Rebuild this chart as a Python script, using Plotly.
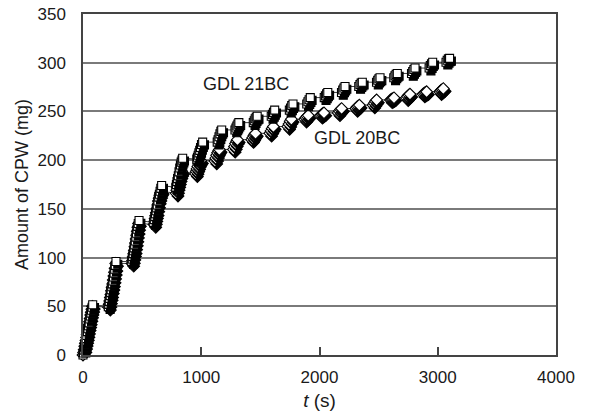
import plotly.graph_objects as go

# ---------------- data ----------------
t_21bc = [0, 4, 8, 12, 17, 22, 27, 32, 37, 42, 47, 52, 57, 62, 67, 72, 77, 82,
          214, 218, 222, 226, 230, 234, 238, 243, 248, 253, 258, 263, 268, 273, 279,
          412, 416, 420, 424, 428, 432, 437, 442, 447, 452, 457, 462, 467, 474,
          598, 603, 608, 613, 618, 623, 628, 634, 640, 646, 652, 658, 665,
          785, 790, 795, 800, 806, 812, 818, 824, 830, 837, 843,
          962, 968, 974, 980, 987, 994, 1002, 1012,
          1135, 1142, 1150, 1158, 1166, 1173,
          1285, 1293, 1301, 1310, 1318,
          1440, 1448, 1456, 1465, 1473,
          1592, 1602, 1611, 1621,
          1745, 1755, 1765, 1776,
          1892, 1902, 1912, 1922,
          2040, 2050, 2060, 2070,
          2186, 2196, 2206, 2216,
          2332, 2342, 2352, 2362,
          2482, 2492, 2502, 2512,
          2628, 2638, 2648, 2658,
          2778, 2788, 2798, 2808,
          2927, 2937, 2947, 2957,
          3070, 3080, 3090, 3100]
m_21bc = [0, 2, 5, 8, 11, 14, 17, 20, 24, 27, 30, 33, 37, 40, 43, 46, 49, 51.5,
          49.5, 52, 55, 58, 61, 64, 67, 70, 73, 76, 80, 84, 88, 92, 96,
          96, 98.5, 101, 104, 107, 110, 113, 117, 121, 125, 129, 132, 135, 138,
          136, 139, 142, 145, 148, 151, 154, 158, 162, 165, 168, 171, 174,
          172, 175, 178, 181, 184, 188, 192, 195, 198, 200, 202,
          201, 203, 205, 207.5, 210, 213, 216, 218.5,
          218.5, 221, 224, 227, 229.5, 231,
          231, 233, 235, 237, 238.5,
          238.5, 240.5, 242.5, 244, 245,
          245, 247, 249, 251.3,
          251.3, 253.5, 256, 257.7,
          257.7, 260, 262, 264.2,
          264.2, 266, 268, 269.5,
          269.5, 272, 274, 275.6,
          275.6, 277.5, 279, 280,
          280, 282, 283.5, 284.5,
          284.5, 286.5, 288, 289,
          289, 291, 293, 294.5,
          294.5, 297, 299, 300.5,
          300.5, 302.5, 304, 304.5]

t_20bc = [0, 5, 10, 15, 20, 25, 30, 35, 40, 45, 50, 55, 60, 65, 70, 75, 80,
          216, 221, 226, 231, 236, 241, 246, 251, 256, 261, 266, 271, 277,
          414, 419, 424, 429, 434, 439, 444, 449, 454, 459, 464, 470,
          600, 605, 610, 615, 620, 626, 632, 638, 644, 650, 656, 662,
          788, 793, 798, 803, 809, 815, 821, 828, 835,
          952, 958, 964, 971, 978, 986, 995,
          1116, 1123, 1130, 1138, 1146, 1153,
          1272, 1281, 1290, 1299, 1306,
          1427, 1436, 1445, 1452, 1459,
          1580, 1590, 1600, 1610,
          1732, 1742, 1752, 1762,
          1875, 1885, 1895, 1905,
          2010, 2020, 2029, 2038,
          2158, 2168, 2178, 2187,
          2307, 2317, 2327, 2337,
          2453, 2463, 2473, 2483,
          2600, 2610, 2620, 2630,
          2735, 2745, 2755, 2765,
          2876, 2886, 2896, 2906,
          3017, 3027, 3037, 3047]
m_20bc = [0, 2.5, 5.5, 9, 12, 15, 18, 21, 24.5, 28, 31, 34, 37.5, 41, 44, 47, 50,
          49, 52, 55.5, 59, 62, 66, 69.5, 73, 77, 81, 85, 89, 94,
          94, 97, 100.5, 104, 107, 111, 115, 119, 123, 127, 131, 135,
          134, 137, 140, 143, 146, 150, 154, 158, 161, 164, 166.5, 168,
          166, 169, 172, 175, 178, 181, 184, 186.5, 188.5,
          186, 188.5, 191, 193.5, 196, 198, 199.5,
          199, 202, 205, 207.5, 209.5, 211,
          211, 214, 217, 219.5, 221,
          221, 223, 225, 226.5, 227.5,
          227.5, 230, 232.5, 234.5,
          234.5, 237, 240, 242,
          242, 243.5, 245, 246,
          246, 247, 248, 248.5,
          248.5, 250.5, 252, 253,
          253, 254.5, 255.5, 256.5,
          256.5, 258.5, 260.5, 261.8,
          261.8, 262.5, 263.2, 264,
          264, 265.5, 266.8, 267.8,
          267.8, 268.8, 269.6, 270.2,
          270.2, 271.5, 272.5, 273.5]

x_ticks = [0, 1000, 2000, 3000, 4000]
y_ticks = [0, 50, 100, 150, 200, 250, 300, 350]
label_21 = "GDL 21BC"
label_20 = "GDL 20BC"

# ---------------- styling ----------------
W, H = 591, 416
ML, MR, MT, MB = 83, 35, 14, 61
X_RANGE = [0, 4000]
Y_RANGE = [0, 350]
px_x = (W - ML - MR) / (X_RANGE[1] - X_RANGE[0])
px_y = (H - MT - MB) / (Y_RANGE[1] - Y_RANGE[0])
dx = 1.8 / px_x
dy = 2.8 / px_y

FONT = "Liberation Sans, Arial, sans-serif"
TXT = "#1a1a1a"

fig = go.Figure()


def add_series(t, m, symbol, size):
    fig.add_trace(go.Scatter(x=t, y=m, mode="lines",
                             line=dict(color="#3a3a3a", width=1),
                             hoverinfo="skip", showlegend=False, cliponaxis=False))
    xs, ys, cols = [], [], []
    for a, b in zip(t, m):
        xs += [a + dx, a]
        ys += [b - dy, b]
        cols += ["#000000", "#ffffff"]
    fig.add_trace(go.Scatter(x=xs, y=ys, mode="markers",
                             marker=dict(symbol=symbol, size=size, color=cols,
                                         line=dict(color="#000000", width=1.1)),
                             hoverinfo="skip", showlegend=False, cliponaxis=False))


add_series(t_20bc, m_20bc, "diamond", 9)
add_series(t_21bc, m_21bc, "square", 8)

fig.add_annotation(x=1376, y=278, text=label_21, showarrow=False,
                   font=dict(family=FONT, size=18, color=TXT))
fig.add_annotation(x=2315, y=222.5, text=label_20, showarrow=False,
                   font=dict(family=FONT, size=18, color=TXT))

fig.update_layout(
    width=W, height=H,
    margin=dict(l=ML, r=MR, t=MT, b=MB, pad=0, autoexpand=False),
    paper_bgcolor="white", plot_bgcolor="white",
    font=dict(family=FONT, size=16, color=TXT),
    showlegend=False,
)
fig.update_xaxes(range=X_RANGE, tickvals=x_ticks, ticktext=[str(v) for v in x_ticks],
                 ticks="inside", ticklen=8, tickwidth=1.5, tickcolor="#444",
                 ticklabelstandoff=6,
                 showline=True, mirror=True, linecolor="#444", linewidth=1.5,
                 showgrid=False, zeroline=False, automargin=False,
                 tickfont=dict(family=FONT, size=17, color=TXT),
                 title=dict(text="<i>t</i> (s)", standoff=8,
                            font=dict(family=FONT, size=19, color=TXT)))
fig.update_yaxes(range=Y_RANGE, tickvals=y_ticks, ticktext=[str(v) for v in y_ticks],
                 ticks="", ticklabelstandoff=12,
                 showline=True, mirror=True, linecolor="#444", linewidth=1.5,
                 showgrid=True, gridcolor="#7a7a7a", gridwidth=1.5, zeroline=False,
                 automargin=False,
                 tickfont=dict(family=FONT, size=17, color=TXT),
                 title=dict(text="Amount of CPW (mg)", standoff=4,
                            font=dict(family=FONT, size=18, color=TXT)))

fig.write_html("out.html")
